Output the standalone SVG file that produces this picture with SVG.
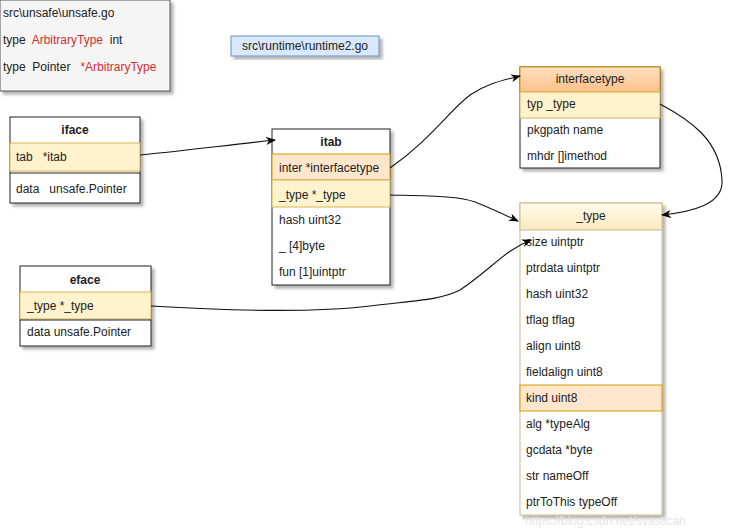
<svg xmlns="http://www.w3.org/2000/svg" width="740" height="529" viewBox="0 0 740 529">
<defs>
<filter id="sh" x="-10%" y="-10%" width="130%" height="130%">
<feDropShadow dx="3" dy="3" stdDeviation="1.5" flood-color="#000" flood-opacity="0.3"/>
</filter>
<marker id="ar" markerWidth="10" markerHeight="8" refX="9" refY="4" orient="auto" markerUnits="userSpaceOnUse">
<path d="M0,0 L10,4 L0,8 L3,4 Z" fill="#000"/>
</marker>
<linearGradient id="gOr" x1="0" y1="0" x2="0" y2="1"><stop offset="0" stop-color="#ffe0c0"/><stop offset="1" stop-color="#ffc08a"/></linearGradient>
<linearGradient id="gYe" x1="0" y1="0" x2="0" y2="1"><stop offset="0" stop-color="#fffbea"/><stop offset="1" stop-color="#fbe9bf"/></linearGradient>
</defs>
<style>
text{font-family:"Liberation Sans",Arial,sans-serif;font-size:12px;fill:#222;dominant-baseline:central;white-space:pre}
.box{fill:#fff;stroke:#222;stroke-width:1}
.hdr{text-anchor:middle}
.b{font-weight:bold}
.yl{fill:#fff2cc;stroke:#d6b656;stroke-width:1}
.pc{fill:#ffe6cc;stroke:#d79b00;stroke-width:1}
.ln{fill:none;stroke:#222;stroke-width:1}
.red{fill:#d32f2f}
.con{fill:none;stroke:#111;stroke-width:1.1;marker-end:url(#ar)}
</style>
<rect width="740" height="529" fill="#fff"/>

<g id="unsafe">
<rect x="0" y="0" width="170" height="91" fill="#f5f5f5" stroke="#555" filter="url(#sh)"/>
<text x="3" y="13">src\unsafe\unsafe.go</text>
<text x="3" y="40" xml:space="preserve">type  <tspan class="red">ArbitraryType</tspan>  int</text>
<text x="3" y="67" xml:space="preserve">type  Pointer   <tspan class="red">*ArbitraryType</tspan></text>
</g>

<g id="runtime2">
<rect x="231" y="36" width="148" height="20" fill="#dae8fc" stroke="#6c8ebf" filter="url(#sh)"/>
<text x="305" y="46" class="hdr">src\runtime\runtime2.go</text>
</g>

<g id="iface">
<rect x="10" y="117" width="130" height="86" class="box" filter="url(#sh)"/>
<text x="75" y="130" class="hdr b">iface</text>
<rect x="10" y="143" width="130" height="28" class="yl"/>
<text x="16" y="157" xml:space="preserve">tab   *itab</text>
<line x1="10" y1="173" x2="140" y2="173" class="ln"/>
<text x="16" y="189" xml:space="preserve">data   unsafe.Pointer</text>
</g>

<g id="itab">
<rect x="272" y="129" width="118" height="156" class="box" filter="url(#sh)"/>
<text x="331" y="142" class="hdr b">itab</text>
<rect x="272" y="154" width="118" height="26" class="pc"/>
<text x="279" y="168">inter *interfacetype</text>
<rect x="272" y="180" width="118" height="27" class="yl"/>
<text x="279" y="195">_type *_type</text>
<text x="279" y="220">hash uint32</text>
<text x="279" y="246">_ [4]byte</text>
<text x="279" y="272">fun [1]uintptr</text>
</g>

<g id="interfacetype">
<rect x="520" y="67" width="140" height="101" class="box" filter="url(#sh)"/>
<rect x="520" y="67" width="140" height="25" fill="url(#gOr)" stroke="#d79b00"/>
<text x="590" y="79" class="hdr">interfacetype</text>
<rect x="520" y="92" width="140" height="26" class="yl"/>
<text x="527" y="104">typ _type</text>
<text x="527" y="130">pkgpath name</text>
<text x="527" y="156">mhdr []imethod</text>
</g>

<g id="type">
<rect x="520" y="203" width="142" height="312" fill="#fff" stroke="#c9b98a" filter="url(#sh)"/>
<rect x="520" y="203" width="142" height="27" fill="url(#gYe)" stroke="#c9b98a"/>
<text x="591" y="216" class="hdr">_type</text>
<text x="526" y="242">size uintptr</text>
<text x="526" y="268">ptrdata uintptr</text>
<text x="526" y="294">hash uint32</text>
<text x="526" y="320">tflag tflag</text>
<text x="526" y="346">align uint8</text>
<text x="526" y="372">fieldalign uint8</text>
<rect x="520" y="385" width="142" height="26" class="pc"/>
<text x="526" y="398">kind uint8</text>
<text x="526" y="424">alg *typeAlg</text>
<text x="526" y="450">gcdata *byte</text>
<text x="526" y="476">str nameOff</text>
<text x="526" y="502">ptrToThis typeOff</text>
</g>

<g id="eface">
<rect x="20" y="266" width="131" height="80" class="box" filter="url(#sh)"/>
<text x="85" y="280" class="hdr b">eface</text>
<rect x="20" y="292" width="131" height="27" class="yl"/>
<text x="27" y="306">_type *_type</text>
<line x1="20" y1="320" x2="151" y2="320" class="ln"/>
<text x="27" y="332">data unsafe.Pointer</text>
</g>

<g id="connectors">
<path class="con" d="M140,155 C190,150 220,146 275,140"/>
<path class="con" d="M390,168 C430,140 450,110 470,95 C490,82 505,80 520,76"/>
<path class="con" d="M390,195 C430,196 460,196 475,202 C495,210 505,215 518,221"/>
<path class="con" d="M151,306 C250,312 320,312 370,306 C420,300 440,300 460,290 C490,270 505,250 531,240"/>
<path class="con" d="M660,104 C690,120 720,140 722,180 C724,205 690,212 662,215"/>
</g>

<text x="525" y="521" style="fill:#e6e6e6;font-size:12px">https://blog.csdn.net/svasticah</text>
</svg>
